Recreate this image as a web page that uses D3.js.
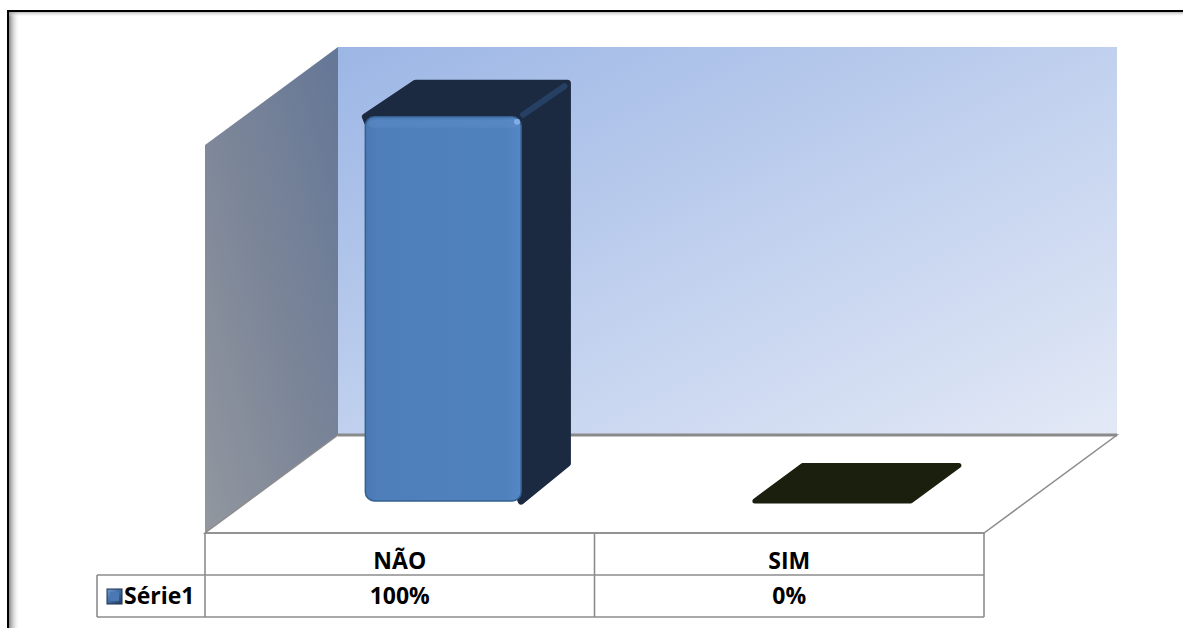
<!DOCTYPE html>
<html>
<head>
<meta charset="utf-8">
<script src="https://cdn.jsdelivr.net/npm/d3@7"></script>
<style>
html,body{margin:0;padding:0;background:#fff;}
svg{display:block;}
</style>
</head>
<body>
<svg id="chart" width="1183" height="628"></svg>
<script>
// ---- data ----
const categories = ["NÃO", "SIM"];
const values = [1.00, 0.00];
const valueLabels = ["100%", "0%"];
const seriesName = "Série1";

// ---- layout ----
const W = 1183, H = 628;
const svg = d3.select("#chart");
const defs = svg.append("defs");

const frontLeft = 205, frontRight = 984, floorFrontY = 533;
const DX = 133, DY = 98;            // full depth offset
const wallH = 388;
const zFront = 0.327, zBack = 0.69; // bar depth span

const xCol = d3.scaleBand().domain(categories).range([frontLeft, frontRight]).padding(0);
const xBar = d3.scaleBand().domain(categories).range([frontLeft, frontRight]).paddingInner(0.6).paddingOuter(0.3);
const yScale = d3.scaleLinear().domain([0, 1.01]).range([0, wallH]);
const zScale = d3.scaleLinear().domain([0, 1]).range([0, 1]);

function P(x, v, z) {
  const zz = zScale(z);
  return [x + zz * DX, floorFrontY - yScale(v) - zz * DY];
}

// gradients
function lin(id, x1, y1, x2, y2, stops) {
  const g = defs.append("linearGradient").attr("id", id)
    .attr("x1", x1).attr("y1", y1).attr("x2", x2).attr("y2", y2);
  stops.forEach(s => g.append("stop").attr("offset", s[0]).attr("stop-color", s[1]).attr("stop-opacity", s[2] == null ? 1 : s[2]));
}
lin("gBack", "0", "0", "1", "1", [[0, "#9cb6e5"], [0.5, "#c0d0ee"], [1, "#e3e9f6"]]);
lin("gSide", "0", "1", "1", "0", [[0, "#92979f"], [0.5, "#7b8598"], [1, "#647797"]]);
lin("gFront", "0", "0", "1", "0", [[0, "#4a78b2"], [0.08, "#4e7fbb"], [0.9, "#4f81bd"], [1, "#5587c6"]]);
lin("gShadowL", "0", "0", "1", "0", [[0, "#7a7a7a", 0.9], [1, "#ffffff", 0]]);
lin("gShadowT", "0", "0", "0", "1", [[0, "#9a9a9a", 0.7], [1, "#ffffff", 0]]);
lin("gKey", "0", "0", "1", "1", [[0, "#6f9bd6"], [0.5, "#3f6aa0"], [1, "#1f3c64"]]);

// outer frame
svg.append("rect").attr("x", 0).attr("y", 0).attr("width", W).attr("height", H).attr("fill", "#fff");
svg.append("rect").attr("x", 9).attr("y", 12).attr("width", 11).attr("height", H).attr("fill", "url(#gShadowL)");
svg.append("rect").attr("x", 9).attr("y", 12).attr("width", W).attr("height", 5).attr("fill", "url(#gShadowT)");
svg.append("path").attr("d", `M8,${H + 5} L8,11 L${W + 5},11`).attr("fill", "none").attr("stroke", "#000").attr("stroke-width", 2);

// walls & floor
const bwTL = P(frontLeft, 1.01, 1), bwBR = P(frontRight, 0, 1);
svg.append("rect").attr("x", bwTL[0]).attr("y", bwTL[1])
  .attr("width", bwBR[0] - bwTL[0]).attr("height", bwBR[1] - bwTL[1]).attr("fill", "url(#gBack)");

const side = [P(frontLeft, 1.01, 0), P(frontLeft, 1.01, 1), P(frontLeft, 0, 1), P(frontLeft, 0, 0)];
svg.append("polygon").attr("points", side.map(p => p.join(",")).join(" ")).attr("fill", "url(#gSide)");

const floor = [P(frontLeft, 0, 0), P(frontLeft, 0, 1), P(frontRight, 0, 1), P(frontRight, 0, 0)];
svg.append("polygon").attr("points", floor.map(p => p.join(",")).join(" "))
  .attr("fill", "#fff").attr("stroke", "#8c8c8c").attr("stroke-width", 1.5);
svg.append("line").attr("x1", P(frontLeft, 0, 1)[0]).attr("y1", P(frontLeft, 0, 1)[1])
  .attr("x2", P(frontRight, 0, 1)[0]).attr("y2", P(frontRight, 0, 1)[1])
  .attr("stroke", "#8a8a8a").attr("stroke-width", 3);

// bars
const dark = "#1b2a41";
categories.forEach((c, i) => {
  const x0 = xBar(c), x1 = x0 + xBar.bandwidth(), v = values[i];
  const g = svg.append("g");
  if (v > 0) {
    const pts = [P(x0, v, zFront), P(x0, v, zBack), P(x1, v, zBack), P(x1, 0, zBack), P(x1, 0, zFront)];
    const ins = pts.map((p, k) => k === 1 ? [p[0] + 2, p[1] + 2] : (k === 2 ? [p[0] - 2, p[1] + 2] : (k === 3 ? [p[0] - 2, p[1] - 2] : p)));
    g.append("polygon").attr("points", ins.map(p => p.join(",")).join(" "))
      .attr("fill", dark).attr("stroke", dark).attr("stroke-width", 7).attr("stroke-linejoin", "round");
    // bevel highlight along top-right edge
    const a = P(x1, v, zFront), b = P(x1, v, zBack);
    g.append("line").attr("x1", a[0] + 2).attr("y1", a[1] - 2).attr("x2", b[0] - 5).attr("y2", b[1] + 5)
      .attr("stroke", "#2b4a74").attr("stroke-width", 6).attr("stroke-linecap", "round").attr("opacity", 0.7);
    const f0 = P(x0, v, zFront), f1 = P(x1, 0, zFront);
    g.append("rect").attr("x", f0[0]).attr("y", f0[1]).attr("width", f1[0] - f0[0]).attr("height", f1[1] - f0[1])
      .attr("rx", 9).attr("fill", "url(#gFront)").attr("stroke", "#35608f").attr("stroke-width", 1.5);
    g.append("rect").attr("x", f0[0] + 3).attr("y", f0[1] + 3).attr("width", f1[0] - f0[0] - 6).attr("height", 8)
      .attr("rx", 5).attr("fill", "#6592cc").attr("opacity", 0.35);
    g.append("circle").attr("cx", f1[0] - 4).attr("cy", f0[1] + 5).attr("r", 3).attr("fill", "#8cb6ec").attr("opacity", 0.8);
  } else {
    const pts = [P(x0, 0, zFront), P(x0, 0, zBack), P(x1, 0, zBack), P(x1, 0, zFront)];
    g.append("polygon").attr("points", pts.map(p => p.join(",")).join(" "))
      .attr("fill", "#1b1f0e").attr("stroke", "#1b1f0e").attr("stroke-width", 5).attr("stroke-linejoin", "round");
  }
});

// data table
const rowTop = floorFrontY, rowMid = 575, rowBot = 617, legLeft = 97;
const tline = (x1, y1, x2, y2) => svg.append("line").attr("x1", x1).attr("y1", y1).attr("x2", x2).attr("y2", y2)
  .attr("stroke", "#8c8c8c").attr("stroke-width", 1.6);
tline(frontLeft, rowTop, frontRight, rowTop);
tline(legLeft, rowMid, frontRight, rowMid);
tline(legLeft, rowBot, frontRight, rowBot);
tline(legLeft, rowMid, legLeft, rowBot);
[frontLeft, ...categories.slice(1).map(c => xCol(c)), frontRight].forEach(x => tline(x, rowTop, x, rowBot));

const font = "'Open Sans', 'Liberation Sans', sans-serif";
const fs = 23;
categories.forEach((c, i) => {
  const cx = xCol(c) + xCol.bandwidth() / 2;
  svg.append("text").attr("x", cx).attr("y", 568.5).attr("text-anchor", "middle")
    .attr("font-family", font).attr("font-weight", "bold").attr("font-size", fs).attr("fill", "#000").text(c);
  svg.append("text").attr("x", cx).attr("y", 604).attr("text-anchor", "middle")
    .attr("font-family", font).attr("font-weight", "bold").attr("font-size", fs).attr("fill", "#000").text(valueLabels[i]);
});
// legend key
svg.append("rect").attr("x", 107).attr("y", 589).attr("width", 15).attr("height", 15)
  .attr("fill", "url(#gKey)").attr("stroke", "#1c2e4a").attr("stroke-width", 1);
svg.append("rect").attr("x", 110).attr("y", 592).attr("width", 9).attr("height", 9).attr("fill", "#4a78b4");
svg.append("text").attr("x", 124).attr("y", 604).attr("font-family", font).attr("font-weight", "bold")
  .attr("font-size", fs).attr("fill", "#000").text(seriesName);
</script>
</body>
</html>
